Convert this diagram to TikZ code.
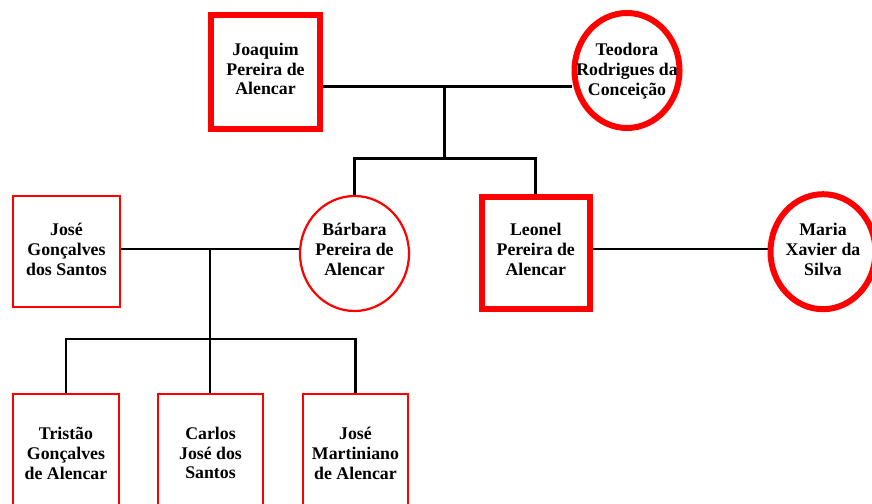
\documentclass[tikz,border=0pt]{standalone}
\usepackage{fontspec}
\setmainfont{Liberation Serif}
\usetikzlibrary{shapes.geometric}

\definecolor{kinred}{RGB}{255,0,0}

\tikzset{
  every node/.style={inner sep=0pt},
  male/.style={rectangle, draw=kinred, fill=white, line width=2.2pt, minimum width=#1, minimum height=111pt},
  male/.default=106pt,
  malekey/.style={male=#1, line width=6pt, minimum height=113pt},
  malekey/.default=109pt,
  female/.style={ellipse, draw=kinred, fill=white, line width=2.2pt, minimum width=109pt, minimum height=115pt},
  femalekey/.style={female, line width=6pt, minimum width=105pt},
  personlabel/.style={text=black, align=center, font=\bfseries\fontsize{17.8}{19.9}\selectfont},
  link/.style={draw=black, line width=2.9pt}
}

\begin{document}
\begin{tikzpicture}[x=1pt, y=-1pt]
\useasboundingbox (0,0) rectangle (872,503);
\clip (0,0) rectangle (872,503);

% first generation
\node[malekey] (joaquim) at (265.5,72) {};
\node[femalekey] (teodora) at (627,70.5) {};

% second generation
\node[male=107pt] (jose) at (66.5,251.5) {};
\node[female] (barbara) at (354.5,253.5) {};
\node[malekey=107.5pt, minimum height=112pt] (leonel) at (535.75,252.5) {};
\node[femalekey] (maria) at (823,251.7) {};

% third generation
\node[male, minimum height=118pt] (tristao) at (66,453) {};
\node[male=105pt, minimum height=118pt] (carlos) at (210.5,453) {};
\node[male=105pt, minimum height=118pt] (josem) at (355.5,453) {};

% names
\node[personlabel] (joaquim-t) at (joaquim.center |- 0,69) {Joaquim\\Pereira de\\Alencar};
\node[personlabel] (teodora-t) at (teodora.center |- 0,71) {Teodora\\Rodrigues da\\Conceição};
\node[personlabel] (jose-t) at (jose.center |- 0,249.5) {José\\Gonçalves\\dos Santos};
\node[personlabel] (barbara-t) at (barbara.center |- 0,249.5) {Bárbara\\Pereira de\\Alencar};
\node[personlabel] (leonel-t) at (leonel.center |- 0,249.5) {Leonel\\Pereira de\\Alencar};
\node[personlabel] (maria-t) at (maria.center |- 0,249.5) {Maria\\Xavier da\\Silva};
\node[personlabel] (tristao-t) at (tristao.center |- 0,453) {Tristão\\Gonçalves\\de Alencar};
\node[personlabel] (carlos-t) at (carlos.center |- 0,453) {Carlos\\José dos\\Santos};
\node[personlabel] (josem-t) at (josem.center |- 0,453) {José\\Martiniano\\de Alencar};

% marriage points and sibling bars
\coordinate (m1) at (444.3,86.7);
\coordinate (b1) at (444.3,158.3);
\coordinate (m2) at (210,249);
\coordinate (b2) at (210,339);
\coordinate (m3) at (680,249);

% connectors
\draw[link] (m1 -| joaquim.east) -- (m1 -| teodora.west);
\draw[link] (m1) -- (b1);
\draw[link] (barbara.north) |- (b1) -| (leonel.north);

\draw[link] (m2 -| jose.east) -- (m2 -| barbara.west);
\draw[link] (m2) -- (b2);
\draw[link] (tristao.north) |- (b2) -| (josem.north);
\draw[link] (b2) -- (b2 |- carlos.north);

\draw[link] (m3 -| leonel.east) -- (m3 -| maria.west);
\end{tikzpicture}
\end{document}
